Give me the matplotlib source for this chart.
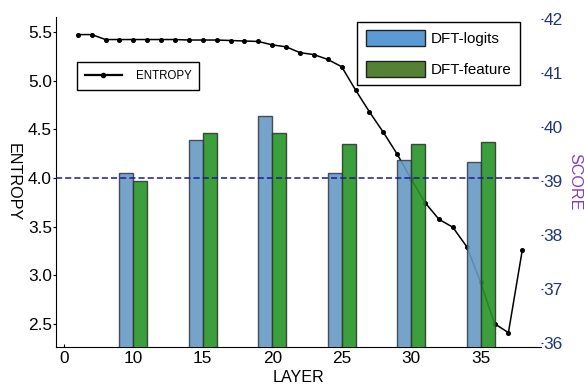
import matplotlib
matplotlib.use("Agg")
import matplotlib.pyplot as plt
from matplotlib.patches import Patch
from matplotlib.lines import Line2D

plt.rcParams["font.family"] = ["Liberation Sans", "DejaVu Sans"]

# bar groups (score axis)
bar_layers = [10, 15, 20, 25, 30, 35]
dft_logits = [39.15, 39.76, 40.20, 39.15, 39.39, 39.35]
dft_feature = [39.00, 39.89, 39.89, 39.68, 39.68, 39.73]

# entropy curve
entropy_layers = list(range(6, 39))
entropy = [5.476, 5.476, 5.425, 5.425, 5.425, 5.425, 5.425, 5.425, 5.42, 5.42,
           5.42, 5.415, 5.41, 5.405, 5.37, 5.35, 5.29, 5.27, 5.22, 5.145,
           4.905, 4.68, 4.47, 4.245, 3.99, 3.747, 3.576, 3.494, 3.294, 2.928,
           2.502, 2.41, 3.26]

xtick_pos = [5, 10, 15, 20, 25, 30, 35]
xtick_labels = ["0", "10", "15", "20", "25", "30", "35"]
entropy_ticks = [2.5, 3.0, 3.5, 4.0, 4.5, 5.0, 5.5]
score_ticks = [36, 37, 38, 39, 40, 41, 42]
ref_entropy = 4.0

navy = "#1f3577"

fig = plt.figure(figsize=(5.84, 3.86), dpi=100)
ax = fig.add_axes([0.096, 0.101, 0.830, 0.855])
ax2 = ax.twinx()

ax.plot(entropy_layers, entropy, color="black", lw=1.1, marker="o", ms=2.6,
        zorder=3)
ax.set_xlim(4.44, 39.33)
ax.set_ylim(2.262, 5.657)
ax.set_xticks(xtick_pos)
ax.set_xticklabels(xtick_labels)
ax.set_yticks(entropy_ticks)
ax.set_yticklabels([f"{v:.1f}" for v in entropy_ticks])
ax.tick_params(axis="x", direction="in", length=2, labelsize=12.4, pad=3)
ax.tick_params(axis="y", direction="out", length=2, labelsize=12.4, pad=1)
ax.set_xlabel("LAYER", fontsize=11.6, labelpad=2.5)
ax.set_ylabel("ENTROPY", fontsize=11.6, rotation=270, labelpad=16)
for s in ["top", "right"]:
    ax.spines[s].set_visible(False)
    ax2.spines[s].set_visible(False)
ax2.spines["left"].set_visible(False)
ax2.spines["bottom"].set_visible(False)

bx = [x - 0.5 for x in bar_layers]
fx = [x + 0.5 for x in bar_layers]
ax2.bar(bx, dft_logits, width=1.0, color="#6699c4", edgecolor="#3a3f45",
        lw=1.0, alpha=0.9, zorder=2)
ax2.bar(fx, dft_feature, width=1.0, color="#269626", edgecolor="#2f3a2f",
        lw=1.0, alpha=0.9, zorder=2)
ax2.plot([0, 1], [ref_entropy, ref_entropy], transform=ax.get_yaxis_transform(),
         color="#1a1a9a", ls=(0, (4, 2)), lw=1.1, zorder=4)
ax2.set_ylim(35.926, 42.04)
ax2.set_yticks(score_ticks)
ax2.tick_params(axis="y", direction="out", length=1.5, labelsize=12.4,
                colors=navy, pad=0.5)
ax2.set_ylabel("SCORE", fontsize=11.6, rotation=270, color="#8040c0",
               labelpad=14)

leg1 = ax.legend([Line2D([], [], color="black", lw=1.6, marker="o", ms=3)],
                 ["ENTROPY"], loc="upper left", bbox_to_anchor=(0.031, 0.882),
                 fontsize=8.3, fancybox=False, edgecolor="black",
                 framealpha=1, handlelength=3.2, borderpad=0.7,
                 handletextpad=1.2)
leg1.get_frame().set_linewidth(1.0)

leg2 = ax2.legend([Patch(facecolor="#5b9bd5", edgecolor="#222222"),
                   Patch(facecolor="#548235", edgecolor="#222222")],
                  ["DFT-logits", "DFT-feature"], loc="upper right",
                  bbox_to_anchor=(0.957, 0.985), fontsize=10.9,
                  fancybox=False, edgecolor="black", framealpha=1,
                  handlelength=3.9, handleheight=1.25, borderpad=0.55,
                  handletextpad=0.4, labelspacing=0.95, borderaxespad=0)
leg2.get_frame().set_linewidth(1.0)

fig.savefig("out.png", dpi=100)
